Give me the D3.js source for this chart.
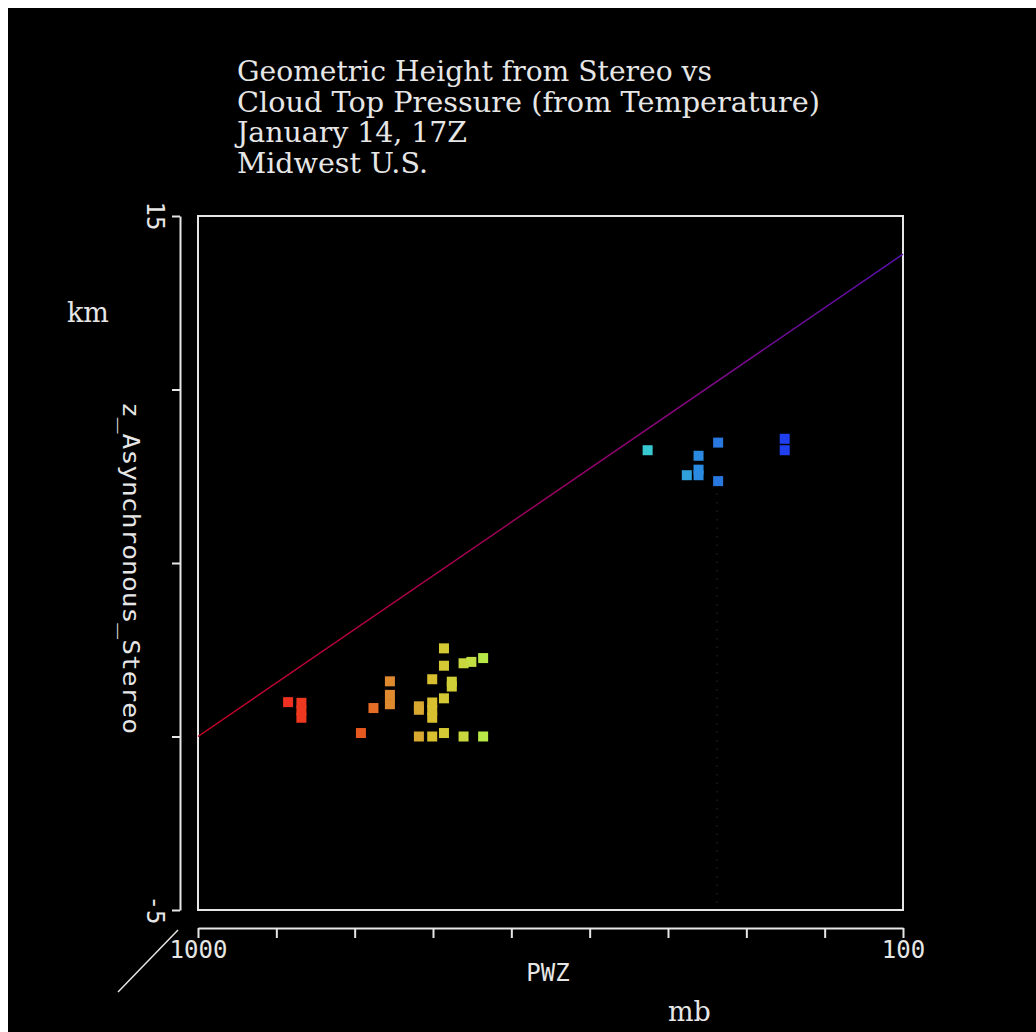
<!DOCTYPE html>
<html>
<head>
<meta charset="utf-8">
<script src="https://cdn.jsdelivr.net/npm/d3@7"></script>
<style>
  html, body { margin: 0; padding: 0; background: #fff; }
  svg { display: block; }
</style>
</head>
<body>
<script>
// ---- data ----
const titleLines = ["Geometric Height from Stereo vs", "Cloud Top Pressure (from Temperature)", "January 14, 17Z", "Midwest U.S."];
const xTicks = [1000, 900, 800, 700, 600, 500, 400, 300, 200, 100];
const xTickLabels = ["1000", "", "", "", "", "", "", "", "", "100"];
const yTicks = [-5, 0, 5, 10, 15];
const yTickLabels = ["-5", "", "", "", "15"];
// cloud top pressure (mb)
const pressure = [885, 868, 868, 868, 792, 776, 755, 755, 755, 718, 718, 718, 701, 701, 701, 701, 701,
                  686, 686, 686, 686, 676, 676, 661, 651, 636, 661, 636,
                  426, 336, 361, 361, 361, 376, 336, 251, 251];
// stereo height (km)
const height = [0.99, 0.97, 0.75, 0.54, 0.10, 0.82, 1.59, 1.20, 0.93, 0.87, 0.77, 0.00, 1.65, 0.98, 0.76, 0.54, 0.00,
                2.54, 2.04, 1.10, 0.10, 1.58, 1.44, 2.11, 2.15, 2.26, 0.00, 0.00,
                8.25, 8.47, 8.09, 7.69, 7.53, 7.53, 7.36, 8.58, 8.25];
// reference line: pressure vs height
const linePressure = [1000, 100];
const lineHeight = [0, 13.9];

// ---- drawing ----
const W = 1036, H = 1032;
const svg = d3.select("body").append("svg").attr("width", W).attr("height", H);
svg.append("rect").attr("width", W).attr("height", H).attr("fill", "#fff");
svg.append("rect").attr("x", 8).attr("y", 8).attr("width", W - 8).attr("height", H - 8).attr("fill", "#000");

const x = d3.scaleLinear().domain([1000, 100]).range([198, 903]);
const y = d3.scaleLinear().domain([-5, 15]).range([910, 216]);

const fg = "#e6e6e6";
const serif = "'DejaVu Serif', 'Liberation Serif', serif";
const mono = "'DejaVu Sans Mono', 'Liberation Mono', monospace";

// title
const titleW = [475, 583, 230, 191];
svg.append("g").selectAll("text").data(titleLines).join("text")
  .attr("x", 237).attr("y", (d, i) => 81 + i * 30.7)
  .attr("fill", fg).attr("font-family", serif).attr("font-size", 27)
  .attr("textLength", (d, i) => titleW[i]).attr("lengthAdjust", "spacingAndGlyphs")
  .text(d => d);

// gradient for reference line
const defs = svg.append("defs");
const grad = defs.append("linearGradient").attr("id", "lg")
  .attr("gradientUnits", "userSpaceOnUse")
  .attr("x1", x(1000)).attr("x2", x(100)).attr("y1", 0).attr("y2", 0);
grad.append("stop").attr("offset", 0).attr("stop-color", "#c80028");
grad.append("stop").attr("offset", 0.5).attr("stop-color", "#9a0060");
grad.append("stop").attr("offset", 1).attr("stop-color", "#5a10b0");

// faint dotted vertical
svg.append("line").attr("x1", 717).attr("x2", 717).attr("y1", 485).attr("y2", 908)
  .attr("stroke", "#1c1c1c").attr("stroke-width", 1.5).attr("stroke-dasharray", "1.5,7");

// box
svg.append("rect").attr("x", x(1000)).attr("y", y(15))
  .attr("width", x(100) - x(1000)).attr("height", y(-5) - y(15))
  .attr("fill", "none").attr("stroke", fg).attr("stroke-width", 2);

// reference line
const lineData = linePressure.map((p, i) => [p, lineHeight[i]]);
svg.append("path").datum(lineData)
  .attr("d", d3.line().x(d => x(d[0])).y(d => y(d[1])))
  .attr("fill", "none").attr("stroke", "url(#lg)").attr("stroke-width", 1.5);

// colour by pressure
const color = d3.scaleLinear()
  .domain([885, 790, 755, 718, 700, 675, 660, 636, 426, 376, 360, 336, 251])
  .range(["#f03020", "#e85a20", "#e08a30", "#d8a830", "#d8c030", "#d0d038", "#c8d840", "#b8e848",
          "#38c8d0", "#30a0d8", "#2888e0", "#2878e0", "#2040f0"])
  .clamp(true);

const pts = pressure.map((p, i) => ({ p, h: height[i] }));
const S = 10;
svg.append("g").selectAll("rect").data(pts).join("rect")
  .attr("x", d => x(d.p) - S / 2).attr("y", d => y(d.h) - S / 2)
  .attr("width", S).attr("height", S)
  .attr("fill", d => color(d.p));

// x axis
const xAxis = d3.axisBottom(x).tickValues(xTicks).tickSize(10).tickSizeOuter(0)
  .tickPadding(4).tickFormat((d, i) => xTickLabels[i]);
const gx = svg.append("g").attr("transform", "translate(0,928)").call(xAxis);
gx.select(".domain").attr("stroke", fg).attr("stroke-width", 2);
gx.selectAll(".tick line").attr("stroke", fg).attr("stroke-width", 2);
gx.selectAll(".tick text").attr("fill", fg).attr("font-family", mono).attr("font-size", 24)
  .attr("font-weight", 300).attr("dy", "0.65em");

// y axis
const yAxis = d3.axisLeft(y).tickValues(yTicks).tickSize(8).tickSizeOuter(0).tickFormat("");
const gy = svg.append("g").attr("transform", "translate(180,0)").call(yAxis);
gy.select(".domain").attr("stroke", fg).attr("stroke-width", 2);
gy.selectAll(".tick line").attr("stroke", fg).attr("stroke-width", 2);
svg.append("g").selectAll("text").data(yTicks).join("text")
  .attr("transform", d => `translate(155,${y(d)}) rotate(90)`)
  .attr("text-anchor", "middle").attr("dy", "0.35em")
  .attr("fill", fg).attr("font-family", mono).attr("font-size", 24)
  .text((d, i) => yTickLabels[i]);

// diagonal z stub
svg.append("line").attr("x1", x(1000) - 80).attr("y1", 992).attr("x2", x(1000) - 20).attr("y2", 930)
  .attr("stroke", fg).attr("stroke-width", 1.5);

// axis titles
svg.append("text").attr("transform", "translate(131,568) rotate(90)")
  .attr("text-anchor", "middle").attr("dy", "0.35em")
  .attr("fill", fg).attr("font-family", mono).attr("font-size", 23)
  .attr("textLength", 332).attr("lengthAdjust", "spacingAndGlyphs")
  .text("z_Asynchronous_Stereo");
svg.append("text").attr("x", 548).attr("y", 981).attr("text-anchor", "middle")
  .attr("fill", fg).attr("font-family", mono).attr("font-size", 24)
  .text("PWZ");
svg.append("text").attr("x", 67).attr("y", 322)
  .attr("fill", fg).attr("font-family", serif).attr("font-size", 27)
  .text("km");
svg.append("text").attr("x", 668).attr("y", 1021)
  .attr("fill", fg).attr("font-family", serif).attr("font-size", 27)
  .text("mb");
</script>
</body>
</html>
